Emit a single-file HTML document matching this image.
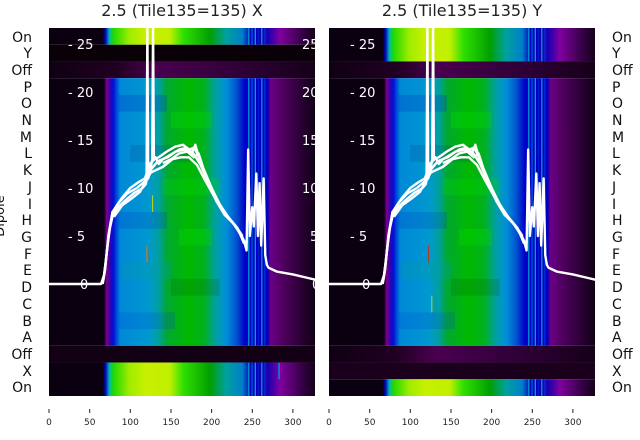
<!DOCTYPE html>
<html><head><meta charset="utf-8"><style>
html,body{margin:0;padding:0;background:#fff;width:640px;height:440px;overflow:hidden}
svg{display:block;font-family:"DejaVu Sans","Liberation Sans",sans-serif}
</style></head><body>
<svg width="640" height="440" viewBox="0 0 640 440">
<defs>
<linearGradient id="main" x1="0" x2="1" y1="0" y2="0">
<stop offset="0" stop-color="#0a0010"/><stop offset="0.205" stop-color="#0a0010"/>
<stop offset="0.215" stop-color="#7a0090"/><stop offset="0.228" stop-color="#3000b0"/>
<stop offset="0.24" stop-color="#0010d8"/><stop offset="0.265" stop-color="#0088d8"/>
<stop offset="0.37" stop-color="#0098d0"/><stop offset="0.41" stop-color="#00a0a0"/>
<stop offset="0.44" stop-color="#00a830"/><stop offset="0.52" stop-color="#00b800"/>
<stop offset="0.58" stop-color="#00b020"/><stop offset="0.62" stop-color="#00a0a0"/>
<stop offset="0.66" stop-color="#0090d8"/><stop offset="0.7" stop-color="#0050d0"/>
<stop offset="0.73" stop-color="#0000c8"/><stop offset="0.815" stop-color="#0000c0"/>
<stop offset="0.825" stop-color="#6a0088"/><stop offset="0.88" stop-color="#4a0058"/>
<stop offset="0.96" stop-color="#200028"/><stop offset="1" stop-color="#0a0010"/>
</linearGradient>
<linearGradient id="on" x1="0" x2="1" y1="0" y2="0">
<stop offset="0" stop-color="#0a0010"/><stop offset="0.2" stop-color="#0a0010"/>
<stop offset="0.21" stop-color="#0000c0"/><stop offset="0.225" stop-color="#00b8b0"/>
<stop offset="0.24" stop-color="#20d800"/><stop offset="0.3" stop-color="#a0ec00"/>
<stop offset="0.36" stop-color="#c8f000"/><stop offset="0.45" stop-color="#c0f000"/>
<stop offset="0.5" stop-color="#30e000"/><stop offset="0.6" stop-color="#00a000"/>
<stop offset="0.66" stop-color="#00a0a0"/><stop offset="0.72" stop-color="#0080c8"/>
<stop offset="0.75" stop-color="#0000c0"/><stop offset="0.82" stop-color="#2000b0"/>
<stop offset="0.86" stop-color="#8000a0"/><stop offset="0.95" stop-color="#300040"/>
<stop offset="1" stop-color="#100012"/>
</linearGradient>
<linearGradient id="off" x1="0" x2="1" y1="0" y2="0">
<stop offset="0" stop-color="#100012"/><stop offset="0.25" stop-color="#200022"/>
<stop offset="0.4" stop-color="#4a0050"/><stop offset="0.7" stop-color="#300038"/>
<stop offset="1" stop-color="#150018"/>
</linearGradient>
<clipPath id="cl"><rect x="49" y="28" width="266" height="368"/></clipPath>
<clipPath id="cr"><rect x="329" y="28" width="266" height="368"/></clipPath>
<g id="stripes">
<rect x="245" y="0" width="1.5" height="1" fill="#00a0d0"/>
<rect x="249" y="0" width="1.5" height="1" fill="#0060e0"/>
<rect x="253" y="0" width="1.5" height="1" fill="#00b0c0"/>
<rect x="257" y="0" width="1.2" height="1" fill="#0020d0"/>
<rect x="261" y="0" width="1.5" height="1" fill="#00a0d0"/>
<rect x="265" y="0" width="1.2" height="1" fill="#0040e0"/>
</g>
<g id="tex">
<rect x="85" y="4" width="60" height="1" fill="#0030c0" opacity="0.25"/>
<rect x="150" y="5" width="50" height="1" fill="#00e000" opacity="0.3"/>
<rect x="100" y="7" width="80" height="1" fill="#004080" opacity="0.2"/>
<rect x="140" y="9" width="70" height="1" fill="#00e000" opacity="0.25"/>
<rect x="85" y="11" width="60" height="1" fill="#0030c0" opacity="0.2"/>
<rect x="160" y="12" width="40" height="1" fill="#00e000" opacity="0.3"/>
<rect x="90" y="14" width="60" height="1" fill="#00a0a0" opacity="0.3"/>
<rect x="150" y="15" width="60" height="1" fill="#006000" opacity="0.2"/>
<rect x="85" y="17" width="70" height="1" fill="#0040d0" opacity="0.2"/>
</g>
<g id="curve" fill="none" stroke="#fff" stroke-width="2.4" stroke-linejoin="round">
<polyline vector-effect="non-scaling-stroke" points="-5,0 64,0 67,0.5 70,2.5 74,5.5 78,7 85,8 95,8.8 105,9.5 115,10 119,10.4 120,10.8 121,27 122,11 125,12 127,13 128,27 129,13 131,13.2 135,12.5 140,13 150,13.5 160,14 170,14.2 175,13.5 180,14.5 185,13 195,11 205,9 215,7.5 225,6.5 235,5.3 240,4.5 243,3.5 245,14 247,5 250,8 252,6 255,11.5 257,5 259,10.5 261,4 264,11 266,3 268,2 270,1.7 280,1.3 300,1 320,0.6 335,0.3"/>
<polyline vector-effect="non-scaling-stroke" points="64,0 68,1 72,4 76,6.5 82,8 90,9 100,10 110,10.6 118,11 120,11.5 124,12.5 130,13 135,13.2 145,13.8 155,14.3 165,14.5 172,14 178,14.2 183,13.5 190,12 200,10 210,8.3 220,7 230,6 238,5"/>
<polyline vector-effect="non-scaling-stroke" points="66,0 69,1.5 73,5 78,7.5 86,8.5 96,9.4 108,10 118,10.7 126,12 134,12.8 146,13.2 156,13.8 166,14 176,13.8 186,12.5 196,10.5 206,8.6 216,7.2 228,6.2 238,4.8"/>
<polyline vector-effect="non-scaling-stroke" points="140,12.6 150,13 160,13.6 170,13.8 178,13.2 184,13.6 192,11.5 202,9.5 212,8 222,6.8 232,5.8 240,4.2"/>
<polyline vector-effect="non-scaling-stroke" points="80,7 90,8.2 100,8.8 112,9.6 125,11.6 140,12.2 152,13 162,13.2 172,13.2 182,12.4 192,10.8 204,9 214,7.6 226,6.4 236,5.2 242,4"/>
</g>
</defs>

<text x="182" y="16" font-size="16" text-anchor="middle" fill="#222">2.5 (Tile135=135) X</text>
<text x="462" y="16" font-size="16" text-anchor="middle" fill="#222">2.5 (Tile135=135) Y</text>

<!-- Left panel -->
<g clip-path="url(#cl)">
<g transform="translate(49,28) scale(0.813,16.727)">
<rect x="0" y="0" width="330" height="1" fill="url(#on)"/>
<rect x="0" y="1" width="330" height="1" fill="#0a0008"/>
<rect x="0" y="2" width="330" height="1" fill="url(#off)"/>
<rect x="0" y="3" width="330" height="16" fill="url(#main)"/>
<use href="#tex"/>
<rect x="0" y="19" width="330" height="1" fill="#140014"/>
<rect x="0" y="20" width="330" height="2" fill="url(#on)"/>
<use href="#stripes"/>
<use href="#stripes" transform="translate(0,3) scale(1,16)"/>
<use href="#stripes" transform="translate(0,20) scale(1,2)"/>
<rect x="121" y="13" width="1" height="1" fill="#e04000"/>
<rect x="127" y="10" width="1" height="1" fill="#e8e000"/>
<rect x="120" y="13" width="1" height="1" fill="#ff8000"/>
<rect x="282" y="20" width="2" height="1" fill="#0080e0"/>
</g>
<g transform="translate(49,284) scale(0.813,-9.6)"><use href="#curve"/></g>
</g>
<g font-size="13" fill="#fff">
<text x="68" y="49">- 25</text><text x="68" y="97">- 20</text><text x="68" y="145">- 15</text>
<text x="68" y="193">- 10</text><text x="68" y="241">- 5</text><text x="80" y="289">0</text>
<text x="302" y="49">25</text><text x="302" y="97">20</text><text x="302" y="145">15</text>
<text x="302" y="193">10</text><text x="310" y="241">5</text><text x="312" y="289">0</text>
</g>

<!-- Right panel -->
<g clip-path="url(#cr)">
<g transform="translate(329,28) scale(0.813,16.727)">
<rect x="0" y="0" width="330" height="2" fill="url(#on)"/>
<rect x="0" y="2" width="330" height="1" fill="url(#off)"/>
<rect x="0" y="3" width="330" height="16" fill="url(#main)"/>
<use href="#tex"/>
<rect x="0" y="19" width="330" height="1" fill="url(#off)"/>
<rect x="0" y="20" width="330" height="1" fill="#1a001c"/>
<rect x="0" y="21" width="330" height="1" fill="url(#on)"/>
<use href="#stripes" transform="scale(1,2)"/>
<use href="#stripes" transform="translate(0,3) scale(1,16)"/>
<use href="#stripes" transform="translate(0,21)"/>
<rect x="122" y="13" width="1" height="1" fill="#e02000"/>
<rect x="126" y="16" width="1" height="1" fill="#e0e000"/>
</g>
<g transform="translate(329,284) scale(0.813,-9.6)"><use href="#curve"/></g>
</g>
<g font-size="13" fill="#fff">
<text x="350" y="49">- 25</text><text x="350" y="97">- 20</text><text x="350" y="145">- 15</text>
<text x="350" y="193">- 10</text><text x="350" y="241">- 5</text><text x="362" y="289">0</text>
</g>

<!-- Row labels -->
<g font-size="14" fill="#111" text-anchor="end">
<text x="32" y="42">On</text><text x="32" y="58">Y</text><text x="32" y="75">Off</text>
<text x="32" y="92">P</text><text x="32" y="108">O</text><text x="32" y="125">N</text>
<text x="32" y="142">M</text><text x="32" y="158">L</text><text x="32" y="175">K</text>
<text x="32" y="192">J</text><text x="32" y="209">I</text><text x="32" y="225">H</text>
<text x="32" y="242">G</text><text x="32" y="259">F</text><text x="32" y="275">E</text>
<text x="32" y="292">D</text><text x="32" y="309">C</text><text x="32" y="326">B</text>
<text x="32" y="342">A</text><text x="32" y="359">Off</text><text x="32" y="376">X</text>
<text x="32" y="392">On</text>
</g>
<g font-size="14" fill="#111">
<text x="612" y="42">On</text><text x="612" y="58">Y</text><text x="612" y="75">Off</text>
<text x="612" y="92">P</text><text x="612" y="108">O</text><text x="612" y="125">N</text>
<text x="612" y="142">M</text><text x="612" y="158">L</text><text x="612" y="175">K</text>
<text x="612" y="192">J</text><text x="612" y="209">I</text><text x="612" y="225">H</text>
<text x="612" y="242">G</text><text x="612" y="259">F</text><text x="612" y="275">E</text>
<text x="612" y="292">D</text><text x="612" y="309">C</text><text x="612" y="326">B</text>
<text x="612" y="342">A</text><text x="612" y="359">Off</text><text x="612" y="376">X</text>
<text x="612" y="392">On</text>
</g>
<text transform="translate(4,216) rotate(-90)" font-size="13" fill="#111" text-anchor="middle">Dipole</text>

<!-- X ticks -->
<g stroke="#222" stroke-width="1">
<line x1="49" y1="409" x2="49" y2="413"/><line x1="89.7" y1="409" x2="89.7" y2="413"/><line x1="130.3" y1="409" x2="130.3" y2="413"/><line x1="171" y1="409" x2="171" y2="413"/><line x1="211.6" y1="409" x2="211.6" y2="413"/><line x1="252.3" y1="409" x2="252.3" y2="413"/><line x1="292.9" y1="409" x2="292.9" y2="413"/>
<line x1="329" y1="409" x2="329" y2="413"/><line x1="369.7" y1="409" x2="369.7" y2="413"/><line x1="410.3" y1="409" x2="410.3" y2="413"/><line x1="451" y1="409" x2="451" y2="413"/><line x1="491.6" y1="409" x2="491.6" y2="413"/><line x1="532.3" y1="409" x2="532.3" y2="413"/><line x1="572.9" y1="409" x2="572.9" y2="413"/>
</g>
<g font-size="9" fill="#222" text-anchor="middle">
<text x="49" y="425">0</text><text x="89.7" y="425">50</text><text x="130.3" y="425">100</text><text x="171" y="425">150</text><text x="211.6" y="425">200</text><text x="252.3" y="425">250</text><text x="292.9" y="425">300</text>
<text x="329" y="425">0</text><text x="369.7" y="425">50</text><text x="410.3" y="425">100</text><text x="451" y="425">150</text><text x="491.6" y="425">200</text><text x="532.3" y="425">250</text><text x="572.9" y="425">300</text>
</g>
</svg>
</body></html>
